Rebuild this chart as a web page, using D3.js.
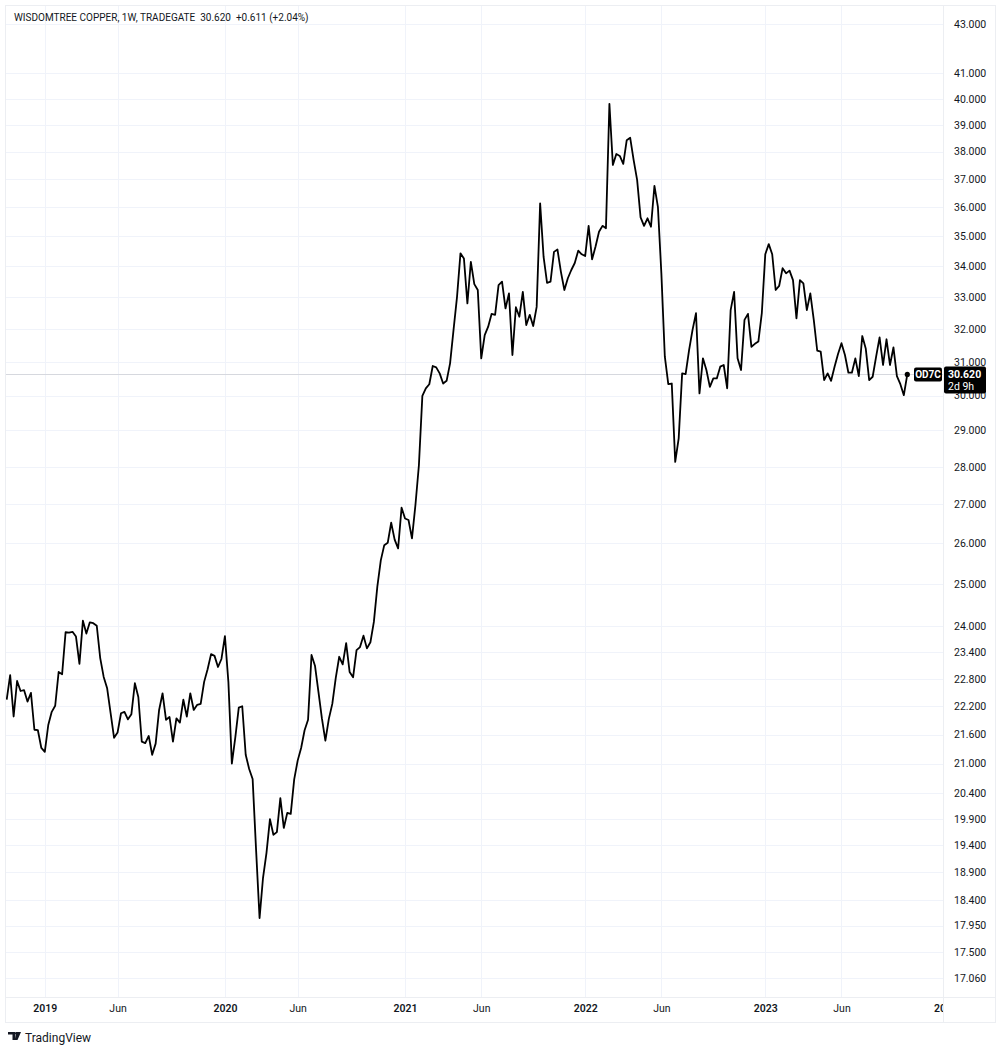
<!DOCTYPE html>
<html><head><meta charset="utf-8">
<script src="https://cdn.jsdelivr.net/npm/d3@7"></script>
<style>
body{margin:0;background:#fff;}
svg{display:block;font-family:"Trebuchet MS",Roboto,"Liberation Sans",Arial,sans-serif;}
</style></head><body>
<svg id="c" width="1000" height="1053"></svg>
<script>
const headerTitle = "WISDOMTREE COPPER, 1W, TRADEGATE";
const headerLast = "30.620";
const headerChange = "+0.611 (+2.04%)";
const symbolTag = "OD7C";
const countdown = "2d 9h";
const firstWeek = "2018-10-22"; // weekly bars (Mondays)

const prices = [
22.34,22.88,21.98,22.75,22.53,22.55,22.30,22.49,21.70,21.69,
21.32,21.24,21.80,22.08,22.21,22.95,22.90,23.85,23.84,23.86,
23.75,23.13,24.12,23.82,24.08,24.06,24.00,23.26,22.84,22.59,
22.05,21.53,21.64,22.05,22.08,21.92,22.03,22.70,22.40,21.45,
21.42,21.57,21.18,21.41,22.12,22.48,21.91,21.97,21.45,21.94,
21.85,22.34,21.98,22.48,22.12,22.23,22.25,22.73,23.01,23.35,
23.31,23.06,23.24,23.76,22.73,21.00,21.54,22.17,22.20,21.18,
20.89,20.69,19.31,18.08,18.80,19.26,19.90,19.60,19.65,20.31,
19.73,20.02,20.00,20.68,21.06,21.32,21.69,21.91,23.33,23.09,
22.51,21.94,21.47,21.93,22.25,22.82,23.29,23.12,23.60,22.95,
22.83,23.44,23.51,23.77,23.48,23.62,24.09,24.93,25.57,25.95,
26.01,26.52,26.09,25.87,26.91,26.63,26.59,26.12,26.98,28.04,
29.99,30.21,30.33,30.87,30.83,30.65,30.35,30.43,30.95,31.97,
33.00,34.43,34.26,32.80,34.15,33.42,33.23,31.10,31.81,32.07,
32.47,32.44,33.39,33.50,32.64,33.12,31.20,32.68,32.38,33.17,
32.12,32.44,32.09,32.69,36.14,34.31,33.46,33.50,34.48,34.56,
33.82,33.23,33.61,33.88,34.11,34.52,34.40,34.34,35.36,34.23,
34.66,35.16,35.36,35.28,39.80,37.51,37.91,37.84,37.55,38.42,
38.51,37.69,36.97,35.65,35.36,35.62,35.33,36.76,36.02,33.77,
31.15,30.33,30.35,28.13,28.78,30.65,30.63,31.35,31.97,32.49,
30.06,31.10,30.75,30.25,30.50,30.50,30.85,30.90,30.21,32.59,
33.17,31.10,30.75,32.28,32.47,31.45,31.54,31.61,32.49,34.40,
34.74,34.40,33.23,33.36,33.94,33.77,33.86,33.55,32.33,33.55,
33.44,32.59,33.12,32.28,31.33,31.30,30.45,30.65,30.43,30.85,
31.23,31.56,31.20,30.67,30.67,31.10,30.57,31.78,31.40,30.45,
30.55,31.15,31.74,30.90,31.68,30.90,31.43,30.57,30.33,30.01,
30.62
];

const priceTicks = [43,41,40,39,38,37,36,35,34,33,32,31,30,29,28,27,26,25,24,23.4,22.8,22.2,21.6,21.0,20.4,19.9,19.4,18.9,18.4,17.95,17.5,17.06];
const timeTickDates = ["2019-01-07","2019-06-03","2020-01-06","2020-06-01","2021-01-04","2021-06-07","2022-01-03","2022-06-06","2023-01-02","2023-06-05","2024-01-01"];
const timeTickLabels = ["2019","Jun","2020","Jun","2021","Jun","2022","Jun","2023","Jun","2024"];

const parse = d3.utcParse("%Y-%m-%d");
const t0 = parse(firstWeek);
const dates = prices.map((_, i) => d3.utcDay.offset(t0, 7 * i));
const data = dates.map((d, i) => ({date: d, value: prices[i]}));

const W = 1000, H = 1053;
const pane = {left: 5, right: 943, top: 5, bottom: 997};
const svg = d3.select("#c");

const x = d3.scaleUtc().domain([dates[0], dates[dates.length - 1]]).range([6.7, 907.3]);
const y = d3.scaleLog().domain([17.06, 43]).range([978, 24]);

// frame background
svg.append("rect").attr("x", 0).attr("y", 0).attr("width", W).attr("height", H).attr("fill", "#fff");

const clip = svg.append("defs").append("clipPath").attr("id", "pane")
  .append("rect").attr("x", pane.left).attr("y", pane.top)
  .attr("width", pane.right - pane.left).attr("height", pane.bottom - pane.top);

const g = svg.append("g").attr("clip-path", "url(#pane)");

// grid
const tDates = timeTickDates.map(parse);
g.append("g").selectAll("line").data(tDates).join("line")
  .attr("x1", d => Math.round(x(d)) + 0.5).attr("x2", d => Math.round(x(d)) + 0.5)
  .attr("y1", pane.top).attr("y2", pane.bottom)
  .attr("stroke", "#f0f3fa").attr("stroke-width", 1);
g.append("g").selectAll("line").data(priceTicks).join("line")
  .attr("x1", pane.left).attr("x2", pane.right)
  .attr("y1", d => Math.round(y(d)) + 0.5).attr("y2", d => Math.round(y(d)) + 0.5)
  .attr("stroke", "#f0f3fa").attr("stroke-width", 1);

// last price line
const lastV = prices[prices.length - 1];
g.append("line").attr("x1", pane.left).attr("x2", pane.right)
  .attr("y1", Math.round(y(lastV)) + 0.5).attr("y2", Math.round(y(lastV)) + 0.5)
  .attr("stroke", "#d6d8de").attr("stroke-width", 1);

// price line
g.append("path").datum(data)
  .attr("fill", "none").attr("stroke", "#000").attr("stroke-width", 1.8)
  .attr("stroke-linejoin", "round")
  .attr("d", d3.line().x(d => x(d.date)).y(d => y(d.value)));

// last dot
g.append("circle").attr("cx", x(dates[dates.length - 1])).attr("cy", y(lastV)).attr("r", 2.6).attr("fill", "#000");

// pane borders
svg.append("line").attr("x1", pane.right + 0.5).attr("x2", pane.right + 0.5).attr("y1", pane.top).attr("y2", 1022)
  .attr("stroke", "#eceef2");
svg.append("line").attr("x1", pane.left).attr("x2", 995).attr("y1", pane.bottom + 0.5).attr("y2", pane.bottom + 0.5)
  .attr("stroke", "#eceef2");
svg.append("rect").attr("x", pane.left + 0.5).attr("y", pane.top + 0.5).attr("width", 995 - pane.left).attr("height", 1022 - pane.top)
  .attr("fill", "none").attr("stroke", "#eceef2");

// right price axis
const yAxis = d3.axisRight(y).tickValues(priceTicks).tickSize(0).tickPadding(0)
  .tickFormat(d3.format(".3f"));
const ya = svg.append("g").attr("transform", `translate(${pane.right + 11},0)`).call(yAxis);
ya.select(".domain").remove();
ya.selectAll("text").attr("font-size", 10.5).attr("fill", "#131722")
  .attr("font-family", "\"Trebuchet MS\",Roboto,\"Liberation Sans\",sans-serif");

// time axis
const xClip = svg.append("defs").append("clipPath").attr("id", "xaxis")
  .append("rect").attr("x", pane.left).attr("y", pane.bottom).attr("width", pane.right - pane.left).attr("height", 25);
const xAxis = d3.axisBottom(x).tickValues(tDates).tickSize(0).tickPadding(0)
  .tickFormat((d, i) => timeTickLabels[i]);
const xa = svg.append("g").attr("clip-path", "url(#xaxis)")
  .append("g").attr("transform", `translate(0,${pane.bottom + 8})`).call(xAxis);
xa.select(".domain").remove();
xa.selectAll("text").attr("font-size", 10.5).attr("fill", "#131722")
  .attr("font-family", "\"Trebuchet MS\",Roboto,\"Liberation Sans\",sans-serif")
  .attr("font-weight", (d, i) => timeTickLabels[i] === "Jun" ? 400 : 600);

// last price label on axis
const ly = y(lastV);
svg.append("rect").attr("x", pane.right + 1).attr("y", ly - 8).attr("width", 42).attr("height", 27).attr("rx", 2).attr("fill", "#000");
svg.append("text").attr("x", pane.right + 5).attr("y", ly + 4).text(d3.format(".3f")(lastV))
  .attr("fill", "#fff").attr("font-size", 10.5).attr("font-weight", 700);
svg.append("text").attr("x", pane.right + 5).attr("y", ly + 16).text(countdown)
  .attr("fill", "#fff").attr("font-size", 10.5).attr("font-weight", 400);

// symbol tag
svg.append("rect").attr("x", pane.right - 29).attr("y", ly - 7).attr("width", 28).attr("height", 14).attr("rx", 2).attr("fill", "#000");
svg.append("text").attr("x", pane.right - 15).attr("y", ly + 4).attr("text-anchor", "middle").text(symbolTag)
  .attr("fill", "#fff").attr("font-size", 10).attr("font-weight", 700);

// header
svg.append("text").attr("x", 14).attr("y", 21)
  .attr("font-size", 10).attr("fill", "#131722")
  .text(`${headerTitle}  ${headerLast}  ${headerChange}`)
  .attr("xml:space", "preserve").style("white-space", "pre");

// TradingView logo
const logo = svg.append("g").attr("transform", "translate(8,1032)");
logo.append("path").attr("d", "M0 0 H7 V8 H4.5 V2.5 H0 Z M8 0 H13 L9.5 8 H6.8 Z").attr("fill", "#131722");
logo.append("circle").attr("cx", 8.3).attr("cy", 1.3).attr("r", 1.3).attr("fill", "#131722");
svg.append("text").attr("x", 25).attr("y", 1042).attr("font-size", 12).attr("fill", "#131722").text("TradingView");
</script>
</body></html>
